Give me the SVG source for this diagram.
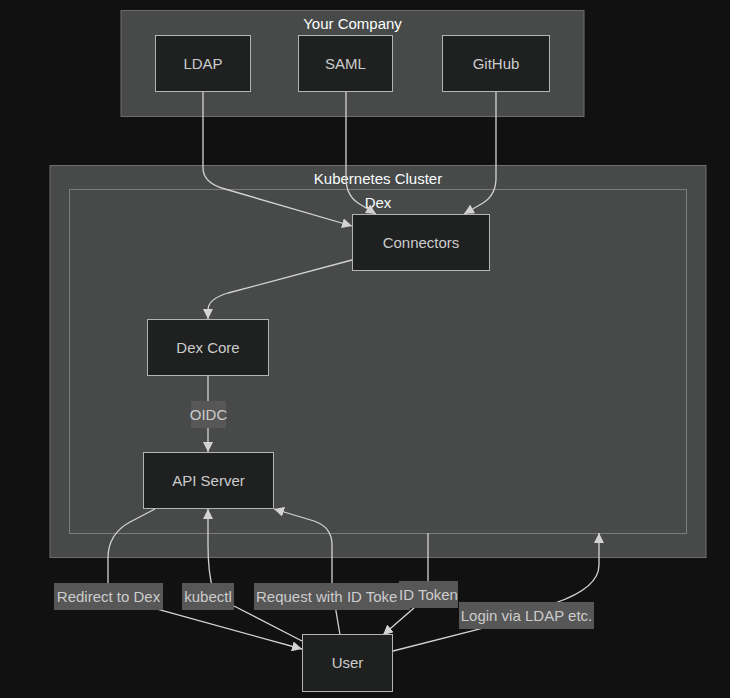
<svg xmlns="http://www.w3.org/2000/svg" width="730" height="698" viewBox="0 0 730 698">
<defs>
<marker id="arr" viewBox="0 0 10 10" refX="10" refY="5" markerWidth="10" markerHeight="10" markerUnits="userSpaceOnUse" orient="auto">
<path d="M0,0 L10,5 L0,10 z" fill="#d3d3d3"/>
</marker>
<style>
.cl{fill:#484949;stroke:#6e6e6e;stroke-width:1}
.cl2{fill:#484949;stroke:#7c7c7c;stroke-width:1}
.ct{font-family:"Liberation Sans",Arial,sans-serif;font-size:15px;fill:#f9fffe;text-anchor:middle}
.nd{fill:#1f2020;stroke:#b4b4b4;stroke-width:1}
.nt{font-family:"Liberation Sans",Arial,sans-serif;font-size:15px;fill:#cccccc;text-anchor:middle}
.e{fill:none;stroke:#d3d3d3;stroke-width:1.3}
.lb{fill:#575757}
.lt{font-family:"Liberation Sans",Arial,sans-serif;font-size:15px;fill:#cccccc;text-anchor:middle}
.ls{font-family:"Liberation Sans",Arial,sans-serif;font-size:15px;fill:#cccccc;text-anchor:start}
</style>
</defs>
<rect width="730" height="698" fill="#111111"/>

<g id="cluster-your-company">
<rect class="cl" x="121" y="10.5" width="463" height="106"/>
<text class="ct" x="352.5" y="29">Your Company</text>
</g>
<g id="cluster-kubernetes">
<rect class="cl" x="50" y="165.5" width="656" height="392"/>
<text class="ct" x="378" y="184">Kubernetes Cluster</text>
</g>
<g id="cluster-dex">
<rect class="cl2" x="69.5" y="189.5" width="617" height="344"/>
<text class="ct" x="378" y="208">Dex</text>
</g>

<g id="connectors">
<path class="e" d="M203,92 V168 Q203,183 225,189 L352,226" marker-end="url(#arr)"/>
<path class="e" d="M346,92 V178 Q346,195 358,203 L376,214" marker-end="url(#arr)"/>
<path class="e" d="M496,92 V178 Q496,195 483,203 L464,214" marker-end="url(#arr)"/>
<path class="e" d="M352,260 L228,293 Q208,299 208,310 V319" marker-end="url(#arr)"/>
<path class="e" d="M208,376 V452" marker-end="url(#arr)"/>
<path class="e" d="M155,509 L130,522 Q108,534 108,558 V590 L160,610 L302,649" marker-end="url(#arr)"/>
<path class="e" d="M302,641 L234,606 L213,590 Q208,572 208,545 V509" marker-end="url(#arr)"/>
<path class="e" d="M340,635 L336,611 L332,583 V545 Q332,527 314,521 L274,509" marker-end="url(#arr)"/>
<path class="e" d="M428,533 V585 L415,607 L383,635" marker-end="url(#arr)"/>
<path class="e" d="M393,651 L480,629 L555,603 Q599,588 599,565 V533" marker-end="url(#arr)"/>
</g>

<g id="edge-labels">
<g id="label-oidc"><rect class="lb" x="191" y="401" width="35" height="27"/><text class="lt" x="208.5" y="420">OIDC</text></g>
<g id="label-redirect"><rect class="lb" x="54" y="583" width="109" height="27"/><text class="lt" x="108.5" y="602">Redirect to Dex</text></g>
<g id="label-kubectl"><rect class="lb" x="182" y="583" width="52" height="27"/><text class="lt" x="208" y="602">kubectl</text></g>
<g id="label-request"><rect class="lb" x="254" y="583" width="156" height="27"/><text class="ls" x="256" y="602">Request with ID Toke</text></g>
<g id="label-idtoken"><rect class="lb" x="399" y="581" width="59" height="27"/><text class="lt" x="428.5" y="600">ID Token</text></g>
<g id="label-login"><rect class="lb" x="459" y="602" width="135" height="27"/><text class="lt" x="526.5" y="621">Login via LDAP etc.</text></g>
</g>

<g id="node-ldap"><rect class="nd" x="155.5" y="35.5" width="95" height="56"/><text class="nt" x="203" y="69">LDAP</text></g>
<g id="node-saml"><rect class="nd" x="298.5" y="35.5" width="94" height="56"/><text class="nt" x="345.5" y="69">SAML</text></g>
<g id="node-github"><rect class="nd" x="442.5" y="35.5" width="107" height="56"/><text class="nt" x="496" y="69">GitHub</text></g>
<g id="node-connectors"><rect class="nd" x="352.5" y="214.5" width="137" height="56"/><text class="nt" x="421" y="248">Connectors</text></g>
<g id="node-dexcore"><rect class="nd" x="147.5" y="319.5" width="121" height="56"/><text class="nt" x="208" y="353">Dex Core</text></g>
<g id="node-apiserver"><rect class="nd" x="143.5" y="452.5" width="130" height="56"/><text class="nt" x="208.5" y="486">API Server</text></g>
<g id="node-user"><rect class="nd" x="302.5" y="634.5" width="90" height="57"/><text class="nt" x="347.5" y="668">User</text></g>
</svg>
